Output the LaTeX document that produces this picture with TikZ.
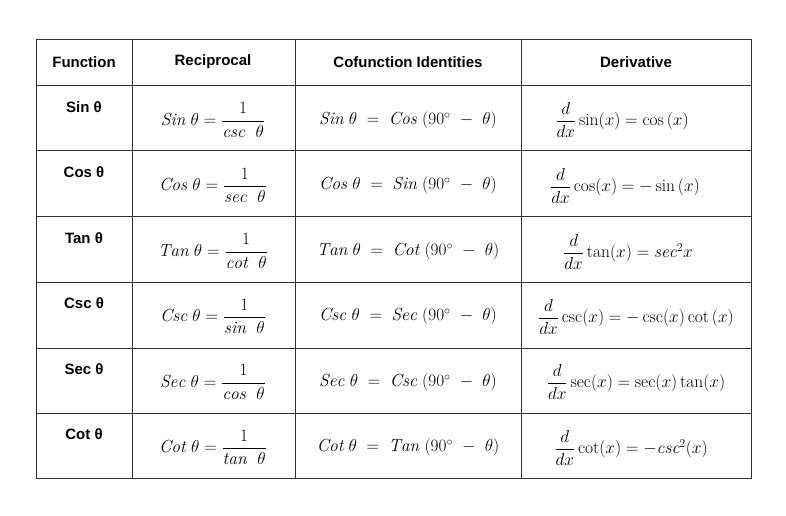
\documentclass[tikz,border=0pt]{standalone}
\usepackage{amsmath}
\usepackage{fontspec}
\setsansfont{Liberation Sans}
\begin{document}
\begin{tikzpicture}[x=1pt,y=-1pt]
  \tikzstyle{head}=[font=\sffamily\bfseries\fontsize{15}{17}\selectfont]
  \tikzstyle{cell}=[font=\fontsize{17.5}{20}\selectfont]
  \tikzstyle{grid}=[draw=black!80,line width=0.9pt]
  \useasboundingbox (0,0) rectangle (786,515);
  % grid
  \draw[grid] (36,39) rectangle (751,478);
  \foreach \x in {132,295,521} \draw[grid] (\x,39) -- (\x,478);
  \foreach \y in {85,150,216,282,348,413} \draw[grid] (36,\y) -- (751,\y);
  % header
  \node[head] (hfun) at (84,62)    {Function};
  \node[head] (hrec) at (213,62)   {Reciprocal};
  \node[head] (hcof) at (408,62)   {Cofunction Identities};
  \node[head] (hder) at (636,62)   {Derivative};
  % rows
  \foreach \f/\r/\c/\i [count=\k from 0] in {Sin/csc/Cos/0, Cos/sec/Sin/1, Tan/cot/Cot/2, Csc/sin/Sec/3, Sec/cos/Csc/4, Cot/tan/Tan/5}{
    \pgfmathsetmacro{\yt}{85+65.5*\k}
    \node[head] (fun\k) at (84,\yt+22) {\f\ θ};
    \node[cell] (rec\k) at (213,\yt+35) {$\mathit{\f}\ \theta = \dfrac{1}{\mathit{\r}\ \ \theta}$};
    \node[cell] (cof\k) at (408,\yt+35) {$\mathit{\f}\ \theta \;=\; \mathit{\c}\ (90^\circ\ -\ \theta)$};
  }
  \node[cell] (der0) at (622,120) {$\dfrac{d}{dx}\sin(x) = \cos\,(x)$};
  \node[cell] (der1) at (625,186) {$\dfrac{d}{dx}\cos(x) = -\sin\,(x)$};
  \node[cell] (der2) at (628,252) {$\dfrac{d}{dx}\tan(x) = \mathit{sec}^2 x$};
  \node[cell] (der3) at (636,317) {$\dfrac{d}{dx}\csc(x) = -\csc(x)\cot\,(x)$};
  \node[cell] (der4) at (636,382) {$\dfrac{d}{dx}\sec(x) = \sec(x)\tan(x)$};
  \node[cell] (der5) at (631,448) {$\dfrac{d}{dx}\cot(x) = -\mathit{csc}^2(x)$};
\end{tikzpicture}
\end{document}
